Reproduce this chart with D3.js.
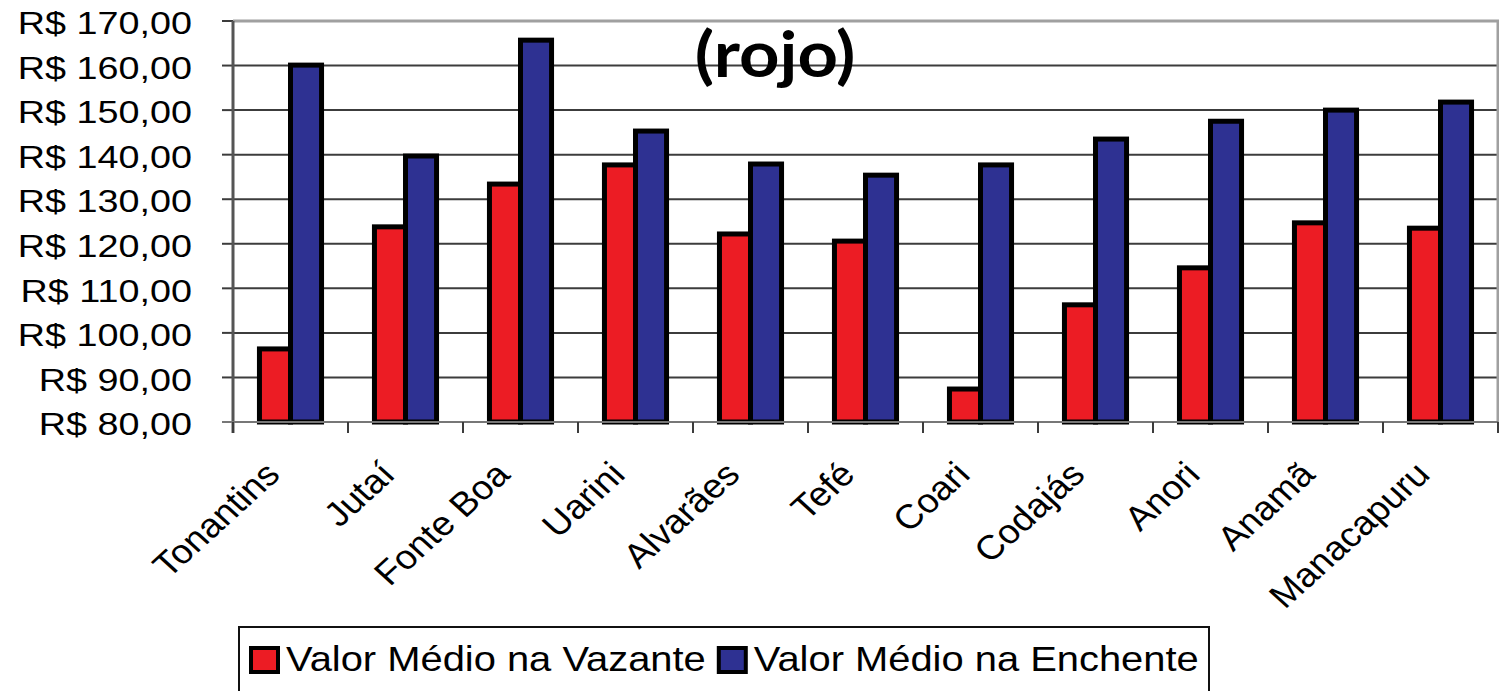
<!DOCTYPE html>
<html lang="pt">
<head>
    <meta charset="UTF-8">
    <title>Valor Médio - Vazante x Enchente</title>
    <script src="https://d3js.org/d3.v7.min.js"></script>
    <style>
        body, html {
            margin: 0;
            background: #fff;
        }
        text {
            font-family: "Liberation Sans", Arial, sans-serif;
            fill: #000;
        }
        .title {
            font-family: Lato, "Open Sans", sans-serif;
            font-weight: 700;
        }
    </style>
</head>
<body>
<div id="chart"></div>

<script>
// Data
var municipios = ["Tonantins", "Jutaí", "Fonte Boa", "Uarini", "Alvarães", "Tefé",
                  "Coari", "Codajás", "Anori", "Anamã", "Manacapuru"];
var vazante  = [96.4, 123.8, 133.4, 137.7, 122.2, 120.6, 87.4, 106.3, 114.6, 124.7, 123.5];
var enchente = [160.1, 139.7, 165.7, 145.3, 137.9, 135.4, 137.7, 143.5, 147.5, 150.0, 151.8];
var series = ["Valor Médio na Vazante", "Valor Médio na Enchente"];
var yTicks = [80, 90, 100, 110, 120, 130, 140, 150, 160, 170];

var colors = ["#ec1c24", "#2e3192"];
var W = 1499, H = 691;
var stretch = 1.18; // the original is a bit wider than tall

var svg = d3.select("#chart").append("svg")
    .attr("width", W)
    .attr("height", H);

// plot area (don't call it "top", that's window.top)
var pLeft = 233, pRight = 1498, pTop = 21, pBottom = 422;

var y = d3.scaleLinear().domain([80, 170]).range([pBottom, pTop]);
var x = d3.scaleBand().domain(municipios).range([pLeft, pRight]);
var bw = x.bandwidth();
var xs = d3.scaleBand().domain(series).range([0.23 * bw, 0.77 * bw]);

// gridlines
svg.append("g").selectAll("line")
    .data(yTicks.filter(function(d) { return d > 80 && d < 170; }))
    .enter().append("line")
    .attr("x1", pLeft).attr("x2", pRight)
    .attr("y1", function(d) { return y(d); })
    .attr("y2", function(d) { return y(d); })
    .attr("stroke", "#3c3c3c")
    .attr("stroke-width", 2);

// plot border top + right (grey)
svg.append("path")
    .attr("d", "M" + pLeft + "," + y(170) + "H" + pRight + "V" + pBottom)
    .attr("fill", "none")
    .attr("stroke", "#a0a0a0")
    .attr("stroke-width", 3);

// title
svg.append("text")
    .attr("class", "title")
    .attr("transform", "translate(775,77) scale(1.12,1)")
    .attr("text-anchor", "middle")
    .style("font-size", "63px")
    .text("(rojo)");

// y axis ticks & labels
var yAxis = svg.append("g");
yAxis.selectAll("line")
    .data(yTicks)
    .enter().append("line")
    .attr("x1", pLeft - 11).attr("x2", pLeft)
    .attr("y1", function(d) { return y(d); })
    .attr("y2", function(d) { return y(d); })
    .attr("stroke", "#3c3c3c")
    .attr("stroke-width", 2);

yAxis.selectAll("text")
    .data(yTicks)
    .enter().append("text")
    .attr("transform", function(d) { return "translate(192," + (y(d) + 2) + ") scale(" + stretch + ",1)"; })
    .attr("text-anchor", "end")
    .attr("dy", "0.35em")
    .style("font-size", "32px")
    .text(function(d) { return "R$ " + d3.format(".2f")(d).replace(".", ","); });

// bars
var groups = svg.append("g").selectAll("g")
    .data(municipios)
    .enter().append("g")
    .attr("transform", function(d) { return "translate(" + x(d) + ",0)"; });

groups.selectAll("rect")
    .data(function(d, i) { return [vazante[i], enchente[i]]; })
    .enter().append("rect")
    .attr("x", function(d, j) { return xs(series[j]); })
    .attr("width", xs.bandwidth())
    .attr("y", function(d) { return y(d); })
    .attr("height", function(d) { return pBottom - y(d); })
    .attr("fill", function(d, j) { return colors[j]; })
    .attr("stroke", "#000")
    .attr("stroke-width", 5);

// axes lines
svg.append("line")
    .attr("x1", pLeft).attr("x2", pLeft)
    .attr("y1", pTop).attr("y2", pBottom + 11)
    .attr("stroke", "#555")
    .attr("stroke-width", 3);
svg.append("line")
    .attr("x1", pLeft - 11).attr("x2", pRight)
    .attr("y1", pBottom).attr("y2", pBottom)
    .attr("stroke", "#777")
    .attr("stroke-width", 2);

// x ticks between categories
svg.append("g").selectAll("line")
    .data(d3.range(municipios.length + 1))
    .enter().append("line")
    .attr("x1", function(i) { return pLeft + i * x.step(); })
    .attr("x2", function(i) { return pLeft + i * x.step(); })
    .attr("y1", pBottom).attr("y2", pBottom + 11)
    .attr("stroke", "#3c3c3c")
    .attr("stroke-width", 2);

// rotated category labels
svg.append("g").selectAll("text")
    .data(municipios)
    .enter().append("text")
    .attr("transform", function(d) {
        return "translate(" + (x(d) + bw / 2 - 18) + ",468) scale(1.1,1) rotate(-45)";
    })
    .attr("text-anchor", "end")
    .attr("dy", "0.35em")
    .style("font-size", "34px")
    .text(function(d) { return d; });

// legend
var legend = svg.append("g");
legend.append("rect")
    .attr("x", 239).attr("y", 627)
    .attr("width", 970).attr("height", 100)
    .attr("fill", "none")
    .attr("stroke", "#111")
    .attr("stroke-width", 2);

var lx = 250;
series.forEach(function(s, i) {
    legend.append("rect")
        .attr("x", lx + 1).attr("y", 648)
        .attr("width", 27).attr("height", 24)
        .attr("fill", colors[i])
        .attr("stroke", "#000")
        .attr("stroke-width", 4);
    var t = legend.append("text")
        .attr("transform", "translate(" + (lx + 36) + ",671) scale(1.14,1)")
        .style("font-size", "35px")
        .text(s);
    lx = lx + 36 + t.node().getComputedTextLength() * 1.14 + 12;
});
</script>
</body>
</html>
